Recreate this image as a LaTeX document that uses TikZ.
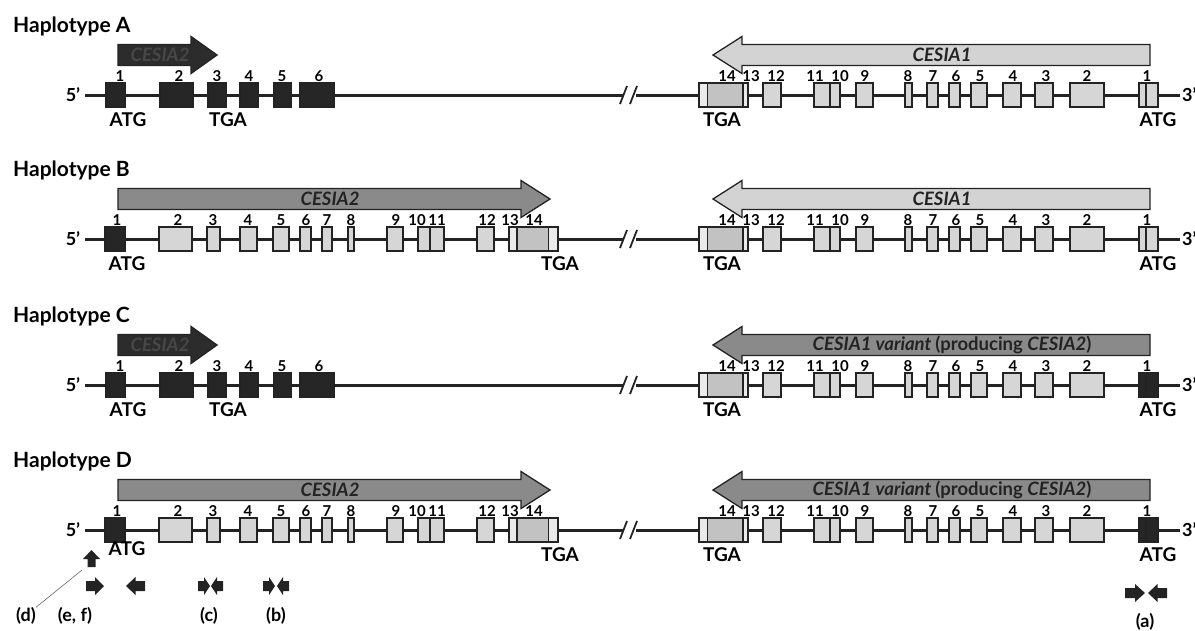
\documentclass[tikz,border=0pt]{standalone}
\usepackage{fontspec}
\setmainfont{Lato}
\definecolor{dnaline}{HTML}{232323}
\definecolor{exonblack}{HTML}{262626}
\definecolor{exonlight}{HTML}{D6D6D6}
\definecolor{exonpale}{HTML}{EAEAEA}
\definecolor{exonmid}{HTML}{C2C2C2}
\definecolor{genelight}{HTML}{D3D3D3}
\definecolor{genemid}{HTML}{8A8A8A}
\definecolor{genedark}{HTML}{2C2C2C}
\definecolor{genehidden}{HTML}{474747}
\tikzset{
  dna/.style={draw=dnaline, line width=3pt},
  breakmark/.style={draw=dnaline, line width=1.8pt},
  exonbox/.style={draw=dnaline, line width=1.4pt, fill=#1},
  exonbox/.default=exonlight,
  splitline/.style={draw=dnaline, line width=2.2pt},
  exonnum/.style={font=\bfseries\fontsize{15}{15}\selectfont, inner sep=0pt},
  codon/.style={font=\bfseries\fontsize{19}{19}\selectfont, inner sep=0pt},
  endlabel/.style={font=\bfseries\fontsize{18}{18}\selectfont, inner sep=0pt},
  haplo/.style={font=\bfseries\fontsize{21}{21}\selectfont, anchor=west, inner sep=0pt},
  genename/.style={font=\bfseries\itshape\fontsize{18.5}{18.5}\selectfont, inner sep=0pt, text=dnaline},
  genearrow/.style={draw=dnaline, line width=1.3pt, fill=#1},
  primerlabel/.style={font=\bfseries\fontsize{18}{18}\selectfont, inner sep=0pt},
  pointer/.style={draw=dnaline!70, line width=0.6pt}
}
% block arrow of a gene: fill, tail x, head base x, tip x
\newcommand{\genebody}[4]{%
  \draw[genearrow=#1] (#2,-50.5) -- (#3,-50.5) -- (#3,-58.5) -- (#4,-40)
    -- (#3,-21.5) -- (#3,-29.5) -- (#2,-29.5) -- cycle;}
% primer: tail x, signed length, y
\newcommand{\primer}[3]{%
  \fill[dnaline] (#1,#3) ++(0,-5) -- ++({0.5*#2},0) -- ++(0,-4) -- ++({0.5*#2},9)
    -- ++({-0.5*#2},9) -- ++(0,-4) -- ++({-0.5*#2},0) -- cycle;}
% chromosome line with break
\newcommand{\backbone}[1]{%
  \draw[dna] (85,0) -- (624,0);
  \draw[dna] (636,0) -- (1180,0);
  \draw[breakmark] (620,9) -- (627,-9);
  \draw[breakmark] (630,9) -- (637,-9);
  \node[endlabel] (#1-five) at (73,0) {5'};
  \node[endlabel, anchor=west] (#1-three) at (1182,0) {3'};}
% short CESA2 copy (haplotypes A and C)
\newcommand{\shortleft}[1]{%
  \genebody{genedark}{118}{191}{217}
  \node[genename, text=genehidden] (#1-cesa2) at (160,-40) {CESIA2};
  \foreach \xa/\xb in {106/125,160/193,208/226,240/258,274/291,300/334}
    \draw[exonbox=exonblack] (\xa,-12) rectangle (\xb,12);
  \foreach \lx/\n in {120/1,179/2,217/3,249/4,282/5,319/6}
    \node[exonnum] (#1-l\n) at (\lx,-19) {\n};
  \node[codon] (#1-atgl) at (128,25) {ATG};
  \node[codon] (#1-tgal) at (228,25) {TGA};}
% full CESA2 copy (haplotypes B and D)
\newcommand{\longleft}[2]{%
  \genebody{genemid}{118}{521}{550}
  \node[genename] (#1-cesa2) at (330,-40) {CESIA2};
  \draw[exonbox=exonblack] (105,-12) rectangle (125,12);
  \foreach \xa/\xb in {159/192,207/220,240/257,273/289,300/311,322/332,348/354,387/403,418/444,477/494}
    \draw[exonbox] (\xa,-12) rectangle (\xb,12);
  \draw[splitline] (430,-12) -- (430,12);
  \draw[exonbox=exonpale] (509,-12) rectangle (558,12);
  \fill[exonmid] (517,-12) rectangle (548,12);
  \draw[splitline] (517,-12) -- (517,12);
  \draw[dnaline, line width=1pt] (548,-12) -- (548,12);
  \draw[dnaline, line width=1.4pt] (509,-12) rectangle (558,12);
  \foreach \lx/\n in {117/1,178/2,213/3,248/4,281/5,306/6,327/7,351/8,396/9,417/10,437/11,487/12,510/13,534/14}
    \node[exonnum] (#1-l\n) at (\lx,-19) {\n};
  \node[codon] (#1-atgl) at (127,#2) {ATG};
  \node[codon] (#1-tgal) at (560,25) {TGA};}
% CESA1 copy: prefix, arrow fill, fill of exon 1
\newcommand{\rightgene}[3]{%
  \genebody{#2}{1150}{742}{713}
  \draw[exonbox=exonpale] (699,-12) rectangle (748,12);
  \fill[exonmid] (707,-12) rectangle (742,12);
  \draw[dnaline, line width=1pt] (707,-12) -- (707,12);
  \draw[splitline] (743,-12) -- (743,12);
  \draw[dnaline, line width=1.4pt] (699,-12) rectangle (748,12);
  \foreach \xa/\xb in {763/781,814/840,856/873,905/912,927/938,949/960,971/987,1003/1021,1035/1053,1070/1104}
    \draw[exonbox] (\xa,-12) rectangle (\xb,12);
  \draw[splitline] (830,-12) -- (830,12);
  \draw[exonbox=#3] (1139,-12) rectangle (1158,12);
  \draw[splitline] (1146,-12) -- (1146,12);
  \foreach \lx/\n in {1147/1,1087/2,1046/3,1013/4,980/5,956/6,933/7,908/8,865/9,840/10,815/11,776/12,751/13,727/14}
    \node[exonnum] (#1-r\n) at (\lx,-19) {\n};
  \node[codon] (#1-tgar) at (722,25) {TGA};
  \node[codon] (#1-atgr) at (1158,25) {ATG};}

\begin{document}
\begin{tikzpicture}[x=1pt,y=-1pt]
  \useasboundingbox[fill=white] (0,0) rectangle (1195,630);

  % Haplotype A
  \begin{scope}[shift={(0,95)}]
    \node[haplo] (A-title) at (13,-69) {Haplotype A};
    \backbone{A}
    \shortleft{A}
    \rightgene{A}{genelight}{exonlight}
    \node[genename] (A-cesa1) at (942,-40) {CESIA1};
  \end{scope}

  % Haplotype B
  \begin{scope}[shift={(0,239)}]
    \node[haplo] (B-title) at (13,-69) {Haplotype B};
    \backbone{B}
    \longleft{B}{25}
    \rightgene{B}{genelight}{exonlight}
    \node[genename] (B-cesa1) at (942,-40) {CESIA1};
  \end{scope}

  % Haplotype C
  \begin{scope}[shift={(0,385)}]
    \node[haplo] (C-title) at (13,-69) {Haplotype C};
    \backbone{C}
    \shortleft{C}
    \rightgene{C}{genemid}{exonblack}
    \node[genename] (C-cesa1) at (952,-40) {CESIA1 variant \upshape(producing \itshape CESIA2\upshape)};
  \end{scope}

  % Haplotype D with primers
  \begin{scope}[shift={(0,530)}]
    \node[haplo] (D-title) at (13,-69) {Haplotype D};
    \backbone{D}
    \longleft{D}{19}
    \rightgene{D}{genemid}{exonblack}
    \node[genename] (D-cesa1) at (952,-40) {CESIA1 variant \upshape(producing \itshape CESIA2\upshape)};
    \fill[dnaline] (91.5,20) -- (100,29) -- (95.5,29) -- (95.5,37) -- (87.5,37) -- (87.5,29) -- (83,29) -- cycle;
    \coordinate (D-up) at (82,40);
    \primer{86}{18}{56}
    \primer{145}{-19}{56}
    \primer{198}{12}{56}
    \primer{223}{-12}{56}
    \primer{263}{12}{56}
    \primer{289}{-12}{56}
    \primer{1125}{20}{63}
    \primer{1167}{-19}{63}
    \node[primerlabel] (D-d) at (26,86) {(d)};
    \node[primerlabel] (D-ef) at (75,86) {(e, f)};
    \node[primerlabel] (D-c) at (209,86) {(c)};
    \node[primerlabel] (D-b) at (276,86) {(b)};
    \node[primerlabel] (D-a) at (1145,92) {(a)};
    \draw[pointer] (D-d.north east) -- (D-up);
  \end{scope}
\end{tikzpicture}
\end{document}
